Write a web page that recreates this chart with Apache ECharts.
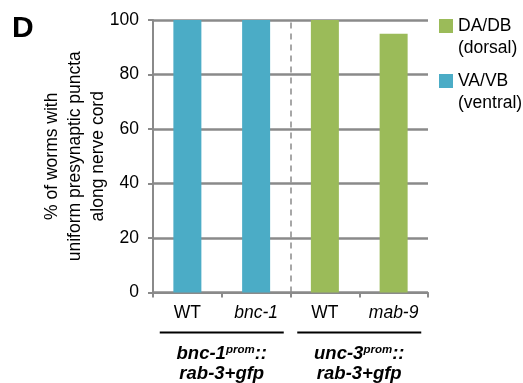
<!DOCTYPE html>
<html>
<head>
<meta charset="utf-8">
<script src="https://cdn.jsdelivr.net/npm/echarts@6/dist/echarts.min.js"></script>
<style>
  html, body { margin: 0; padding: 0; background: #fff; }
  #chart { width: 523px; height: 383px; }
</style>
</head>
<body>
<div id="chart"></div>
<script>
// 数据
var categories = ['WT', 'bnc-1', 'WT', 'mab-9'];
var ventral = [100, 100, '-', '-']; // VA/VB
var dorsal = ['-', '-', 100, 95];   // DA/DB
var groupGenes = ['bnc-1', 'unc-3'];
var groupSuffix = 'rab-3+gfp';
var yTicks = [0, 20, 40, 60, 80, 100];
var dividerAt = 2; // 两组之间的虚线位置

var grey = '#8a8a8a';
var font = 'Liberation Sans, Arial, sans-serif';

var chart = echarts.init(document.getElementById('chart'));

var option = {
  animation: false,
  title: {
    text: 'D',
    left: 7,
    top: 9,
    textStyle: { fontFamily: font, fontSize: 30, fontWeight: 'bold', color: '#000' }
  },
  legend: {
    orient: 'vertical',
    left: 434,
    top: -12,
    itemWidth: 14,
    itemHeight: 14,
    itemGap: -11,
    icon: 'rect',
    data: ['DA/DB\n(dorsal)', 'VA/VB\n(ventral)'],
    // 前面加一个空行，让图标对齐第一行文字
    formatter: function (name) { return '\n' + name; },
    textStyle: { fontFamily: font, fontSize: 17.5, color: '#000', lineHeight: 22 }
  },
  grid: { left: 153, right: 95, top: 20, bottom: 90 },
  xAxis: [{
    type: 'category',
    data: categories,
    axisLine: { lineStyle: { color: grey, width: 2 } },
    axisTick: { show: true, length: 5, interval: 0, lineStyle: { color: grey, width: 2 } },
    axisLabel: {
      margin: 12,
      interval: 0,
      fontFamily: font, fontSize: 17.5, color: '#000',
      formatter: function (v, i) { return i % 2 ? '{i|' + v + '}' : v; },
      rich: { i: { fontFamily: font, fontSize: 17.5, fontStyle: 'italic', color: '#000' } }
    }
  }, {
    type: 'category',
    position: 'bottom',
    offset: 30,
    data: groupGenes,
    axisLine: { show: false },
    axisTick: { show: false },
    axisLabel: {
      margin: 9,
      interval: 0,
      formatter: function (v) {
        return '{line| }\n{gap| }\n{b|' + v + '}{s|prom}{b|::}\n{b|' + groupSuffix + '}';
      },
      rich: {
        line: { width: 124, height: 2, backgroundColor: '#000', lineHeight: 2 },
        gap: { fontSize: 8, lineHeight: 10 },
        b: { fontFamily: font, fontSize: 18.5, fontWeight: 'bold', fontStyle: 'italic', color: '#000', lineHeight: 20 },
        s: { fontFamily: font, fontSize: 11.5, fontWeight: 'bold', fontStyle: 'italic', color: '#000', lineHeight: 12, verticalAlign: 'top' }
      }
    }
  }, {
    type: 'value',
    show: false,
    min: 0,
    max: categories.length
  }],
  yAxis: {
    type: 'value',
    min: yTicks[0],
    max: yTicks[yTicks.length - 1],
    interval: 20,
    name: '% of worms with\nuniform presynaptic puncta\nalong nerve cord',
    nameLocation: 'middle',
    nameRotate: 90,
    nameGap: 43,
    nameMoveOverlap: false,
    nameTextStyle: { fontFamily: font, fontSize: 17.5, color: '#000', lineHeight: 23 },
    axisLine: { show: true, lineStyle: { color: grey, width: 2 } },
    axisTick: { show: true, length: 5, lineStyle: { color: grey, width: 2 } },
    splitLine: { show: true, lineStyle: { color: grey, width: 2.5 } },
    axisLabel: { margin: 14, fontFamily: font, fontSize: 17.5, color: '#000' }
  },
  series: [{
    name: 'VA/VB\n(ventral)',
    type: 'bar',
    stack: 'all',
    barWidth: 28,
    data: ventral,
    itemStyle: { color: '#4BACC6' }
  }, {
    name: 'DA/DB\n(dorsal)',
    type: 'bar',
    stack: 'all',
    barWidth: 28,
    data: dorsal,
    itemStyle: { color: '#9BBB59' }
  }, {
    name: 'divider',
    type: 'line',
    xAxisIndex: 2,
    data: [[dividerAt, 0]],
    symbol: 'none',
    lineStyle: { width: 0 },
    silent: true,
    markLine: {
      silent: true,
      symbol: 'none',
      label: { show: false },
      lineStyle: { color: grey, type: [6, 5], width: 1.5 },
      data: [{ xAxis: dividerAt }]
    }
  }]
};

chart.setOption(option);
</script>
</body>
</html>
